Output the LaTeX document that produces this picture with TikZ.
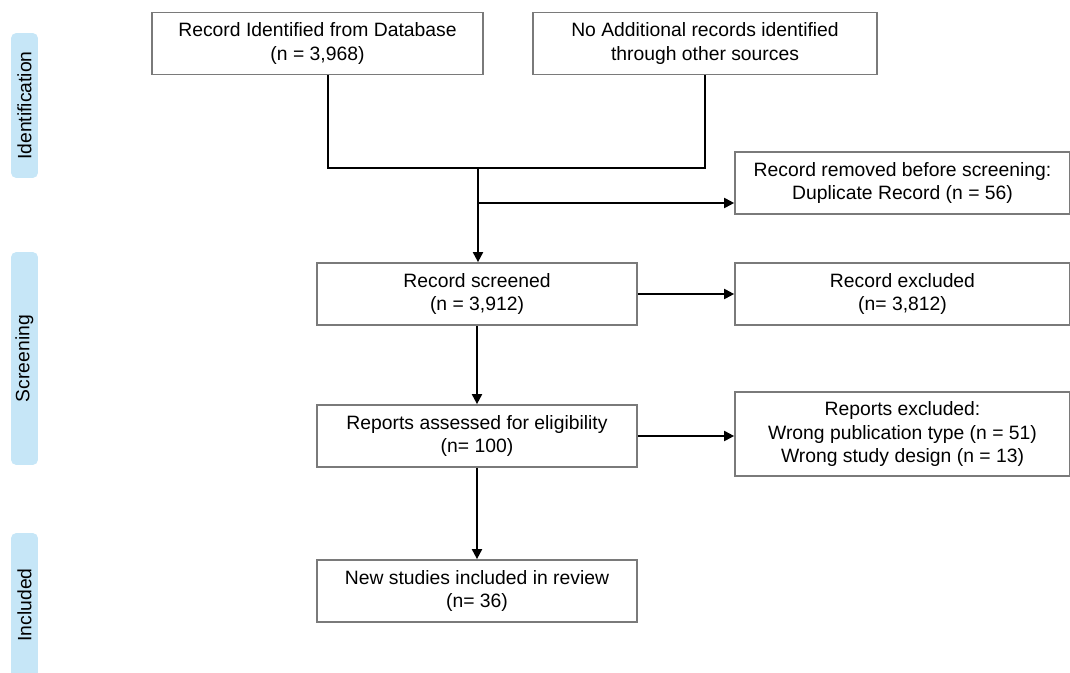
\documentclass[tikz,border=0pt]{standalone}
\usepackage{fontspec}
\setmainfont{Liberation Sans}
\usetikzlibrary{arrows.meta, positioning, calc}
\definecolor{stageblue}{HTML}{C6E6F7}
\definecolor{boxgray}{HTML}{7A7A7A}

\begin{document}
\begin{tikzpicture}[
    x=0.02cm, y=-0.02cm,
    every node/.style={font=\fontsize{11}{13.6}\selectfont},
    block/.style={rectangle, draw=boxgray, line width=1pt, minimum height=1.24cm, minimum width=#1, align=center, inner sep=2pt},
    block/.default=6.4cm,
    stage/.style={rectangle, rounded corners=3pt, fill=stageblue, minimum width=0.54cm, minimum height=#1, inner sep=0pt},
    line/.style={line width=1.1pt},
    arrow/.style={line width=1.1pt, -{Triangle[length=2mm, width=2mm]}},
]
\useasboundingbox (0,0) rectangle (1070,672);

% Stages
\node[stage=2.9cm] (ident) at (24.5,105.5) {};
\node[rotate=90] at (ident) {Identification};
\node[stage=4.26cm] (screen) at (24.5,358.5) {};
\node[rotate=90] at (screen) {Screening};
\node[stage=3.2cm] (incl) at (24.5,613) {};
\node[rotate=90] at (24.5,605) {Included};

% Identification
\node[block=6.62cm] (db) at (317.5,43.5) {Record Identified from Database\\(n = 3,968)};
\node[block=6.88cm] (other) at (705,43.5) {No Additional records identified\\through other sources};
\node[block=6.7cm] (dup) at (902.5,183) {Record removed before screening:\\Duplicate Record (n = 56)};

% Screening
\node[block] (screened) at (477,294) {Record screened\\(n = 3,912)};
\node[block=6.7cm] (excl) at (902.5,294) {Record excluded\\(n= 3,812)};
\node[block] (assessed) at (477,436) {Reports assessed for eligibility\\(n= 100)};
\node[block=6.7cm, minimum height=1.68cm] (repexcl) at (902.5,434) {Reports excluded:\\Wrong publication type (n = 51)\\Wrong study design (n = 13)};

% Included
\node[block] (studies) at (477,591) {New studies included in review\\(n= 36)};

% Connectors
\coordinate (join) at (478,168);
\coordinate (split) at (478,203);
\draw[line] ([xshift=0.21cm]db.south) |- (join) -| (other.south);
\draw[arrow] (join) -- (join |- screened.north);
\draw[arrow] (split) -- (split -| dup.west);
\draw[arrow] (screened) -- (excl);
\draw[arrow] (screened) -- (assessed);
\draw[arrow] (assessed.east) -- (assessed.east -| repexcl.west);
\draw[arrow] (assessed) -- (studies);

\end{tikzpicture}
\end{document}
